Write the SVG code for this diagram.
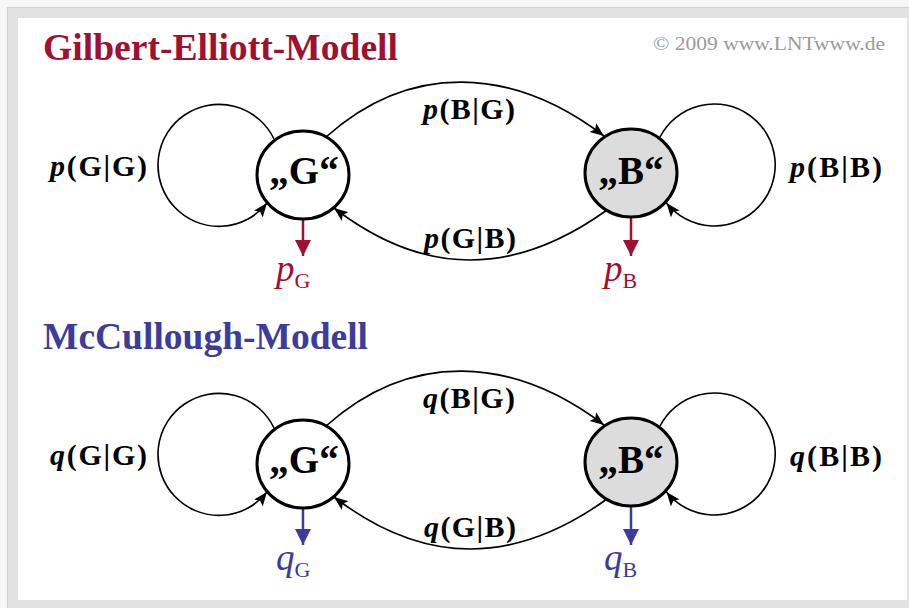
<svg xmlns="http://www.w3.org/2000/svg" width="909" height="608" viewBox="0 0 909 608">
  <style>
    .title { font-family: "Liberation Serif", "Times New Roman", serif; font-weight: bold; font-size: 37.5px; }
    .copy { font-family: "Liberation Serif", "Times New Roman", serif; font-size: 18px; fill: #9a9a9a; }
    .state { font-family: "Liberation Serif", "Times New Roman", serif; font-weight: bold; font-size: 39px; fill: #000; text-anchor: middle; }
    .lbl { font-family: "Liberation Serif", "Times New Roman", serif; font-weight: bold; font-size: 30px; fill: #000; }
    .it { font-style: italic; }
    .prob { font-family: "Liberation Serif", "Times New Roman", serif; font-size: 37px; font-style: italic; }
    .sub { font-size: 22px; font-style: normal; }
    .edge { fill: none; stroke: #000; stroke-width: 1.6; marker-end: url(#tip); }
    .node { stroke: #000; stroke-width: 3; }
    .red { fill: #a0102f; }
    .blue { fill: #3c3c9c; }
  </style>
  <defs>
    <marker id="tip" markerUnits="userSpaceOnUse" markerWidth="16" markerHeight="12" refX="14" refY="5.5" orient="auto">
      <path d="M0,0 L14,5.5 L0,11 L3,5.5 z" fill="#000"/>
    </marker>
    <marker id="tipRed" markerUnits="userSpaceOnUse" markerWidth="18" markerHeight="18" refX="16" refY="8" orient="auto">
      <path d="M0,0 L16,8 L0,16 z" fill="#a0102f"/>
    </marker>
    <marker id="tipBlue" markerUnits="userSpaceOnUse" markerWidth="18" markerHeight="18" refX="16" refY="8" orient="auto">
      <path d="M0,0 L16,8 L0,16 z" fill="#3c3c9c"/>
    </marker>
  </defs>

  <!-- frame -->
  <rect x="0" y="0" width="909" height="608" fill="#f7f7f7"/>
  <rect x="7.5" y="7.5" width="905" height="604" fill="#e2e2e2" stroke="#d2d2d2" stroke-width="1"/>
  <rect x="18" y="18" width="889" height="582" fill="#ffffff"/>

  <text class="copy" x="653" y="50" textLength="232" lengthAdjust="spacingAndGlyphs">© 2009 www.LNTwww.de</text>

  <!-- ===== Gilbert-Elliott model ===== -->
  <text class="title red" x="43" y="60" textLength="355" lengthAdjust="spacingAndGlyphs">Gilbert-Elliott-Modell</text>

  <g id="ge-connectors">
    <path class="edge" d="M274,139 A61,61 0 1 0 267,203"/>
    <path class="edge" d="M660,137 A61,61 0 1 1 666.5,203"/>
    <path class="edge" d="M326,137 C410,62 512,66 604,136"/>
    <path class="edge" d="M607,210 C515,276 425,278 334,208"/>
    <line x1="303" y1="196" x2="303" y2="256" stroke="#a0102f" stroke-width="2.5" marker-end="url(#tipRed)"/>
    <line x1="631" y1="196" x2="631" y2="256" stroke="#a0102f" stroke-width="2.5" marker-end="url(#tipRed)"/>
  </g>

  <g id="ge-G">
    <ellipse class="node" cx="303" cy="175" rx="46" ry="44" fill="#ffffff"/>
    <text class="state" x="304" y="184">„G“</text>
  </g>
  <g id="ge-B">
    <ellipse class="node" cx="631" cy="173" rx="46" ry="44" fill="#dcdcdc"/>
    <text class="state" x="631" y="184">„B“</text>
  </g>

  <g id="ge-labels">
    <text class="lbl" x="50" y="176" textLength="97" lengthAdjust="spacing"><tspan class="it">p</tspan>(G|G)</text>
    <text class="lbl" x="790" y="177" textLength="92" lengthAdjust="spacing"><tspan class="it">p</tspan>(B|B)</text>
    <text class="lbl" x="423" y="119" textLength="92" lengthAdjust="spacing"><tspan class="it">p</tspan>(B|G)</text>
    <text class="lbl" x="424" y="248" textLength="92" lengthAdjust="spacing"><tspan class="it">p</tspan>(G|B)</text>
    <text class="prob red" x="276" y="281">p<tspan class="sub" dy="7">G</tspan></text>
    <text class="prob red" x="604" y="281">p<tspan class="sub" dy="7">B</tspan></text>
  </g>

  <!-- ===== McCullough model ===== -->
  <text class="title blue" x="43" y="349" textLength="325" lengthAdjust="spacingAndGlyphs">McCullough-Modell</text>

  <g id="mc-connectors">
    <path class="edge" d="M274,428 A61,61 0 1 0 267,492"/>
    <path class="edge" d="M660,426 A61,61 0 1 1 666.5,492"/>
    <path class="edge" d="M326,426 C410,351 512,355 604,425"/>
    <path class="edge" d="M607,499 C515,565 425,567 334,497"/>
    <line x1="303" y1="485" x2="303" y2="545" stroke="#3c3c9c" stroke-width="2.5" marker-end="url(#tipBlue)"/>
    <line x1="631" y1="485" x2="631" y2="545" stroke="#3c3c9c" stroke-width="2.5" marker-end="url(#tipBlue)"/>
  </g>

  <g id="mc-G">
    <ellipse class="node" cx="303" cy="464" rx="46" ry="44" fill="#ffffff"/>
    <text class="state" x="304" y="473">„G“</text>
  </g>
  <g id="mc-B">
    <ellipse class="node" cx="631" cy="462" rx="46" ry="44" fill="#dcdcdc"/>
    <text class="state" x="631" y="473">„B“</text>
  </g>

  <g id="mc-labels">
    <text class="lbl" x="50" y="465" textLength="97" lengthAdjust="spacing"><tspan class="it">q</tspan>(G|G)</text>
    <text class="lbl" x="790" y="466" textLength="92" lengthAdjust="spacing"><tspan class="it">q</tspan>(B|B)</text>
    <text class="lbl" x="423" y="408" textLength="92" lengthAdjust="spacing"><tspan class="it">q</tspan>(B|G)</text>
    <text class="lbl" x="424" y="537" textLength="92" lengthAdjust="spacing"><tspan class="it">q</tspan>(G|B)</text>
    <text class="prob blue" x="276" y="570">q<tspan class="sub" dy="7">G</tspan></text>
    <text class="prob blue" x="604" y="570">q<tspan class="sub" dy="7">B</tspan></text>
  </g>
</svg>
